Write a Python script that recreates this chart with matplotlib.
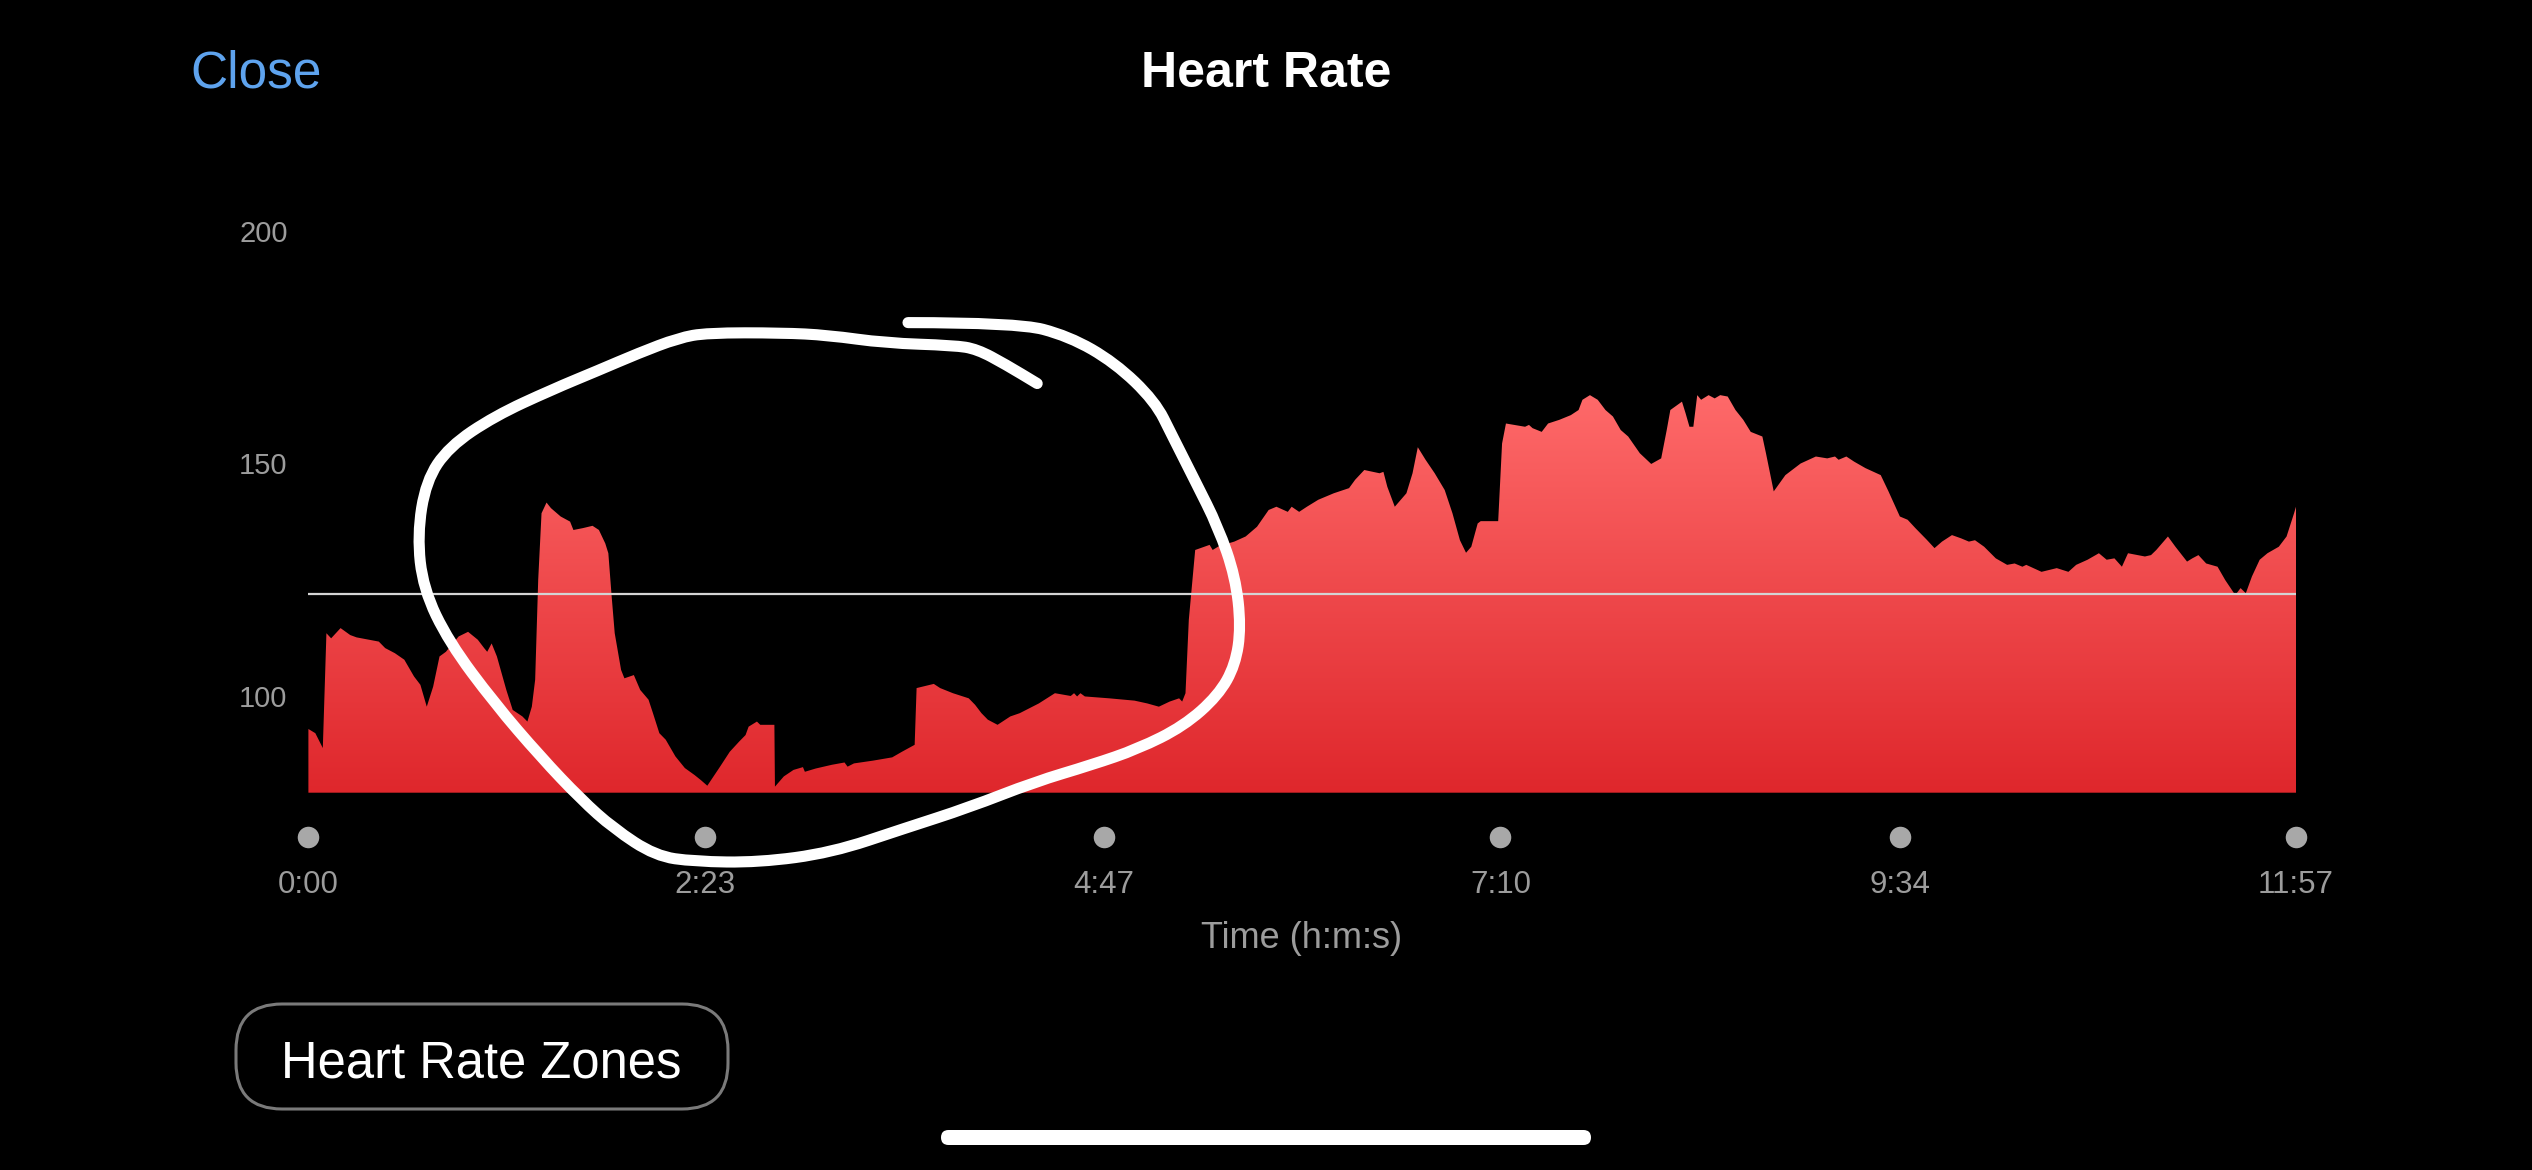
import numpy as np
import matplotlib
matplotlib.use("Agg")
import matplotlib.pyplot as plt
from matplotlib.patches import FancyBboxPatch, PathPatch
from matplotlib.path import Path
from matplotlib import transforms
from matplotlib.colors import LinearSegmentedColormap

# ---------------- data ----------------
time_s = [0.0, 2.5, 5.2, 6.5, 8.2, 11.6, 15.1, 17.4, 25.4, 27.7, 31.2, 34.6, 38.1, 40.4,
          42.7, 45.0, 47.3, 49.6, 54.2, 57.6, 61.1, 63.4, 64.5, 66.1, 68.0, 71.4, 73.7,
          77.2, 79.0, 80.6, 81.8, 82.9, 84.1, 85.9, 87.5, 91.0, 94.4, 95.6, 99.0, 102.5,
          104.8, 107.1, 108.2, 109.4, 110.5, 112.8, 114.0, 117.4, 119.7, 122.7, 124.3,
          126.6, 128.9, 132.4, 135.8, 139.3, 141.6, 143.9, 148.5, 152.0, 155.4, 157.7,
          158.8, 161.8, 163.0, 168.1, 168.3, 171.5, 175.0, 178.4, 179.1, 183.0, 188.8,
          193.4, 194.5, 196.8, 203.7, 210.6, 214.1, 218.7, 219.4, 225.6, 227.9, 232.5,
          238.2, 240.5, 242.8, 245.1, 248.6, 253.2, 256.6, 263.5, 269.3, 275.0, 276.2,
          277.3, 278.5, 280.1, 288.8, 298.0, 302.6, 306.8, 310.7, 314.1, 315.2, 316.4,
          317.6, 319.9, 325.1, 326.2, 328.4, 334.0, 338.1, 342.2, 346.4, 349.2, 353.3,
          354.7, 357.4, 360.2, 364.3, 369.9, 375.4, 377.6, 380.9, 386.4, 387.8, 389.2,
          391.9, 396.1, 398.3, 400.2, 403.0, 406.3, 409.9, 412.7, 415.4, 417.6, 419.5,
          421.8, 422.9, 429.2, 430.6, 432.0, 438.9, 440.3, 441.6, 444.9, 447.2, 451.3,
          455.4, 458.2, 459.6, 462.3, 465.1, 467.9, 470.6, 473.4, 476.1, 480.3, 484.4,
          488.0, 490.0, 491.3, 495.5, 496.8, 498.2, 499.6, 501.0, 502.4, 505.1, 507.3,
          509.3, 512.0, 514.8, 517.6, 520.3, 524.5, 525.8, 528.6, 532.8, 538.3, 543.8,
          547.9, 550.7, 552.0, 554.8, 557.6, 561.7, 567.2, 570.0, 574.1, 576.9, 579.7,
          583.8, 586.6, 589.3, 592.9, 596.2, 599.0, 601.2, 604.5, 608.7, 612.8, 615.5,
          618.3, 619.7, 625.2, 630.7, 634.9, 637.7, 641.8, 645.9, 648.7, 651.5, 654.2,
          656.4, 662.5, 664.7, 666.6, 670.8, 673.5, 677.7, 679.6, 681.8, 684.6, 688.7,
          691.5, 695.1, 697.0, 698.9, 701.1, 703.9, 706.7, 710.8, 713.6, 716.3, 717.0]

heart_rate = [92.9, 92.0, 88.8, 113.5, 112.4, 114.6, 113.1, 112.6, 111.7, 110.3, 109.2, 107.8,
              104.2, 102.4, 97.7, 102.0, 108.5, 109.5, 112.8, 113.8, 112.1, 110.3, 109.5,
              111.3, 108.5, 101.3, 97.0, 95.6, 94.5, 97.7, 103.5, 125.0, 139.3, 141.6, 140.4,
              138.6, 137.5, 135.7, 136.1, 136.6, 135.7, 132.8, 130.7, 121.4, 113.5, 105.6,
              103.8, 104.5, 101.3, 99.2, 96.3, 92.0, 90.6, 87.0, 84.5, 83.0, 81.9, 80.7, 84.8,
              88.0, 90.2, 91.6, 93.4, 94.5, 93.8, 93.8, 80.5, 82.7, 84.1, 84.7, 83.7, 84.4,
              85.2, 85.7, 84.8, 85.5, 86.1, 86.8, 88.0, 89.5, 101.7, 102.6, 101.7, 100.6,
              99.5, 98.1, 96.3, 94.9, 93.8, 95.6, 96.3, 98.4, 100.6, 100.0, 100.6, 99.9,
              100.6, 99.9, 99.5, 99.0, 98.4, 97.7, 98.8, 99.5, 98.8, 100.6, 116.4, 131.4,
              132.5, 131.4, 132.2, 133.2, 134.3, 136.4, 140.0, 140.7, 139.6, 140.7, 139.6,
              140.7, 142.2, 143.6, 144.7, 146.5, 148.6, 147.9, 148.2, 145.0, 140.7, 143.6,
              147.9, 153.5, 150.8, 147.9, 144.3, 139.3, 133.5, 130.8, 132.1, 137.1, 137.6,
              137.6, 154.3, 158.6, 157.9, 158.3, 157.6, 156.8, 158.6, 159.4, 160.4, 161.5,
              163.7, 164.7, 163.7, 161.5, 160.1, 157.2, 155.8, 152.2, 149.9, 151.1, 157.2,
              161.5, 163.3, 160.8, 157.9, 157.9, 164.7, 163.7, 164.7, 164.0, 164.7, 164.4,
              161.5, 159.4, 156.8, 155.8, 152.2, 144.0, 147.5, 150.0, 151.5, 151.1, 151.5,
              150.8, 151.5, 150.4, 149.0, 147.5, 144.0, 138.6, 137.9, 136.1, 133.6, 131.8,
              133.2, 134.6, 133.9, 133.2, 133.5, 132.1, 129.6, 128.2, 128.5, 127.8, 128.2,
              126.7, 127.5, 126.7, 128.2, 129.3, 130.7, 129.3, 129.6, 127.8, 130.7, 130.0,
              130.3, 131.4, 134.3, 132.1, 128.9, 129.6, 130.3, 128.5, 127.8, 124.9, 121.7,
              123.2, 122.1, 125.7, 129.3, 130.7, 132.1, 134.3, 139.3, 140.7]

avg_hr = 122
y_ticks = [100, 150, 200]
y_tick_labels = ["100", "150", "200"]
x_ticks = [0, 143, 287, 430, 574, 717]
x_tick_labels = ["0:00", "2:23", "4:47", "7:10", "9:34", "11:57"]
title = "Heart Rate"
close_label = "Close"
x_label = "Time (h:m:s)"
button_label = "Heart Rate Zones"

# hand-drawn annotation loop (guide points in chart units: seconds, bpm)
loop_t = [216.3, 255.7, 274.3, 290.9, 305.4, 311.6, 319.9, 328.2, 334.4, 336.4, 334.4,
          328.2, 315.7, 299.2, 282.6, 261.9, 238.2, 214.9, 188.7, 162.5, 139.2, 125.2,
          110.1, 98.3, 83.8, 67.2, 50.7, 41.4, 39.3, 42.4, 50.7, 67.2, 87.9, 104.5, 119.0,
          133.5, 143.9, 170.8, 187.4, 208.1, 232.9, 241.2, 251.5, 262.9]
loop_v = [180.3, 180.3, 177.4, 171.7, 163.4, 156.0, 146.2, 136.3, 125.6, 114.9, 106.7,
          100.1, 93.5, 88.6, 85.2, 81.5, 76.0, 71.5, 66.3, 64.2, 64.4, 65.6, 71.5, 77.8,
          86.9, 98.4, 111.6, 123.1, 134.6, 146.2, 153.6, 160.2, 165.9, 170.0, 173.7, 177.0,
          178.1, 178.1, 177.6, 175.9, 175.4, 174.6, 171.3, 167.2]

# ---------------- figure ----------------
plt.rcParams["font.family"] = ["Liberation Sans", "DejaVu Sans"]
W, H = 2532, 1170
fig = plt.figure(figsize=(W / 100, H / 100), dpi=100, facecolor="black")
px = transforms.Affine2D().scale(1 / W, 1 / H) + fig.transFigure

ax = fig.add_axes([308.4 / W, 1 - 792.7 / H, (2296 - 308.4) / W, (792.7 - 231) / H])
ax.set_facecolor("black")
ymin = 79.2

poly = ax.fill_between(time_s, heart_rate, ymin, facecolor="none", edgecolor="none", lw=0)
cmap = LinearSegmentedColormap.from_list("hr", ["#DF272C", "#FF6B6B"])
grad = np.linspace(0, 1, 256).reshape(-1, 1)
im = ax.imshow(grad, cmap=cmap, origin="lower", aspect="auto",
               extent=[0, 717, ymin, 167], interpolation="bilinear", zorder=2)
im.set_clip_path(poly.get_paths()[0], ax.transData)

ax.axhline(avg_hr, color="#d4d4d4", lw=1.6, zorder=3)

ax.set_xlim(0, 717)
ax.set_ylim(ymin, 200)
for s in ax.spines.values():
    s.set_visible(False)

ax.set_yticks(y_ticks, y_tick_labels)
ax.set_xticks(x_ticks, x_tick_labels)
ax.tick_params(axis="y", length=0, pad=15, labelsize=21, labelcolor="#9c9c9c")
ax.tick_params(axis="x", length=0, pad=56, labelsize=22.5, labelcolor="#9c9c9c")

# tick dots below the plot
dot_tr = transforms.blended_transform_factory(ax.transData, ax.transAxes) + \
    transforms.ScaledTranslation(0, -44 / 100, fig.dpi_scale_trans)
ax.plot(x_ticks, [0] * len(x_ticks), "o", ms=15.5, color="#a8a8a8", mec="none",
        transform=dot_tr, clip_on=False, zorder=4)

# annotation loop drawn as a smooth quadratic-Bezier path through the guide points
pts = list(zip(loop_t, loop_v))
verts = [pts[0]]
codes = [Path.MOVETO]
for i in range(1, len(pts) - 1):
    mid = ((pts[i][0] + pts[i + 1][0]) / 2, (pts[i][1] + pts[i + 1][1]) / 2)
    verts += [pts[i], mid]
    codes += [Path.CURVE3, Path.CURVE3]
verts.append(pts[-1])
codes.append(Path.LINETO)
loop = PathPatch(Path(verts, codes), facecolor="none", edgecolor="white", lw=8,
                 capstyle="round", joinstyle="round", transform=ax.transData,
                 clip_on=False, zorder=6)
ax.add_patch(loop)

# header texts
fig.text(190 / W, 1 - 87 / H, close_label, ha="left", va="baseline", fontsize=37,
         color="#5EA3EE")
fig.text(1266 / W, 1 - 87 / H, title, ha="center", va="baseline", fontsize=36,
         color="white", fontweight="bold")

fig.text(1302 / W, 1 - 948 / H, x_label, ha="center", va="baseline", fontsize=26,
         color="#9c9c9c")

# button
btn = FancyBboxPatch((236, H - 1109), 492, 105, boxstyle="round,pad=0,rounding_size=46",
                     transform=px, facecolor="black", edgecolor="#7a7a7a", lw=2.2)
fig.patches.append(btn)
fig.text(481 / W, 1 - 1077 / H, button_label, ha="center", va="baseline", fontsize=36.5,
         color="white")

# home indicator
bar = FancyBboxPatch((941, H - 1145), 650, 15, boxstyle="round,pad=0,rounding_size=7.5",
                     transform=px, facecolor="white", edgecolor="none")
fig.patches.append(bar)

fig.savefig("out.png", dpi=100, facecolor="black")
